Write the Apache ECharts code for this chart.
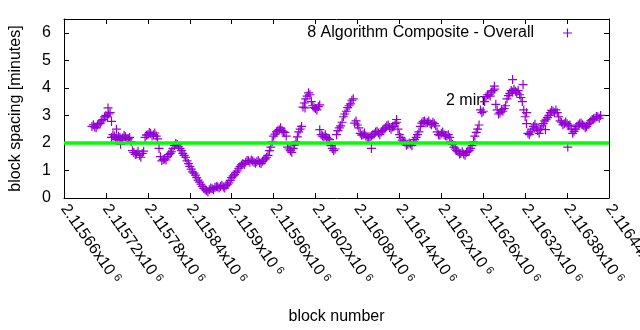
<!DOCTYPE html>
<html>
<head>
<meta charset="utf-8">
<script src="https://cdn.jsdelivr.net/npm/echarts@6/dist/echarts.min.js"></script>
<style>html,body{margin:0;padding:0;background:#fff}#c{width:640px;height:330px}</style>
</head>
<body>
<div id="c"></div>
<script>
// ---- data ----
const seriesName = '8 Algorithm Composite - Overall';
const startBlock = 2115700;
const blockStep = 4;
const spacingValues = [
  2.6, 2.58, 2.65, 2.72, 2.85, 3.0, 3.05, 2.2, 2.25, 2.15,
  2.2, 2.18, 2.22, 2.15, 2.05, 1.65, 1.6, 1.55, 1.62, 2.2,
  2.3, 2.35, 2.3, 2.25, 1.8, 1.35, 1.42, 1.5, 1.62, 1.8,
  1.98, 1.88, 1.72, 1.55, 1.35, 1.15, 0.95, 0.83, 0.65, 0.5,
  0.35, 0.26, 0.3, 0.34, 0.38, 0.4, 0.42, 0.4, 0.45, 0.55,
  0.74, 0.85, 0.98, 1.15, 1.25, 1.3, 1.35, 1.38, 1.3, 1.32,
  1.28, 1.33, 1.42, 1.55, 1.85, 2.25, 2.4, 2.48, 2.45, 2.38,
  1.85, 1.72, 1.8, 2.05, 2.4, 2.6, 3.45, 3.7, 3.75, 3.35,
  3.25, 3.32, 2.3, 2.22, 2.2, 2.12, 1.8, 1.78, 2.45, 2.62,
  2.95, 3.15, 3.35, 3.55, 2.72, 2.65, 2.35, 2.3, 2.25, 2.18,
  2.25, 2.32, 2.42, 2.3, 2.45, 2.55, 2.65, 2.5, 2.6, 2.75,
  2.3, 2.1, 2.02, 1.95, 1.96, 2.05, 2.2, 2.4, 2.72, 2.8,
  2.74, 2.7, 2.75, 2.62, 2.3, 2.35, 2.3, 2.25, 2.2, 1.95,
  1.78, 1.68, 1.62, 1.6, 1.66, 1.72, 1.9, 2.25, 2.5, 3.2,
  3.15, 3.68, 3.75, 3.85, 3.95, 3.2, 3.1, 3.15, 3.35, 3.72,
  3.9, 3.95, 3.82, 3.75, 3.5, 2.95, 2.35, 2.4, 2.6, 2.55,
  2.35, 2.62, 2.8, 2.92, 3.1, 3.15, 3.2, 2.95, 2.75, 2.7,
  2.7, 2.65, 2.35, 2.5, 2.65, 2.72, 2.62, 2.6, 2.72, 2.85,
  2.9, 2.95, 3.0
];
// the blocks in between (startBlock + 2 + i * blockStep)
const midValues = [
  2.66, 2.55, 2.7, 2.8, 2.95, 2.95, 3.1, 2.3, 2.12, 2.25,
  2.1, 2.28, 2.14, 2.2, 1.72, 1.58, 1.7, 1.48, 1.7, 2.28,
  2.38, 2.25, 2.36, 2.15, 1.5, 1.4, 1.38, 1.58, 1.68, 1.9,
  1.94, 1.8, 1.62, 1.48, 1.25, 1.05, 0.9, 0.74, 0.58, 0.42,
  0.3, 0.22, 0.36, 0.3, 0.42, 0.36, 0.46, 0.36, 0.5, 0.64,
  0.8, 0.92, 1.08, 1.2, 1.22, 1.36, 1.3, 1.34, 1.26, 1.36,
  1.25, 1.38, 1.48, 1.72, 2.05, 2.32, 2.44, 2.55, 2.4, 2.25,
  1.78, 1.66, 1.92, 2.22, 2.5, 3.3, 3.6, 3.82, 3.5, 3.28,
  3.2, 3.38, 2.25, 2.3, 2.15, 1.9, 1.72, 2.3, 2.55, 2.75,
  3.05, 3.28, 3.42, 3.6, 2.8, 2.55, 2.28, 2.36, 2.2, 2.22,
  2.3, 2.4, 2.36, 2.4, 2.5, 2.62, 2.56, 2.58, 2.7, 2.5,
  2.2, 2.05, 1.92, 2.0, 1.9, 2.12, 2.3, 2.6, 2.78, 2.72,
  2.8, 2.66, 2.7, 2.4, 2.28, 2.4, 2.26, 2.3, 2.05, 1.85,
  1.72, 1.6, 1.68, 1.55, 1.7, 1.8, 2.05, 2.38, 2.65, 3.1,
  3.5, 3.75, 3.7, 3.9, 3.4, 3.05, 3.2, 3.25, 3.6, 3.8,
  3.85, 3.88, 3.9, 3.65, 3.2, 2.7, 2.3, 2.5, 2.68, 2.45,
  2.5, 2.7, 2.86, 3.0, 3.18, 3.1, 3.1, 2.8, 2.66, 2.76,
  2.62, 2.5, 2.42, 2.6, 2.7, 2.66, 2.55, 2.68, 2.8, 2.88,
  2.96, 2.9
];
const outlierBlocks = [2115723, 2115728, 2115735, 2115741, 2116005, 2116026, 2116100, 2116136, 2116276, 2116302, 2116317, 2116322, 2116349, 2116381];
const outlierValues = [3.27, 2.78, 2.5, 1.95, 3.27, 2.48, 1.8, 2.85, 4.06, 4.3, 4.12, 3.1, 2.48, 1.85];

const xMin = 2115660, xMax = 2116440, xTickStep = 60;
const yMin = 0, yMax = 6.5, yTickStep = 1;
const refLevel = 2;
const refLabel = '2 min';
const xName = 'block number';
const yName = 'block spacing [minutes]';

// ---- build ----
const points = spacingValues.map((v, i) => [startBlock + i * blockStep, v]);
midValues.forEach((v, i) => points.push([startBlock + 2 + i * blockStep, v]));
outlierBlocks.forEach((b, i) => points.push([b, outlierValues[i]]));

const purple = '#9400d3';
const plusPath = 'path://M-0.6,-4.5H0.6V-0.6H4.5V0.6H0.6V4.5H-0.6V0.6H-4.5V-0.6H-0.6Z';
const font = 'Liberation Sans, Arial, sans-serif';
const fs = 16;

function fmtX(v) {
  const s = parseFloat((v / 1e6).toFixed(5)).toString();
  return '{a|' + s + 'x10}{b|6}';
}

function axisCommon() {
  return {
    axisLine: {show: true, onZero: false, lineStyle: {color: '#000', width: 1}},
    axisTick: {show: true, inside: true, length: 5, lineStyle: {color: '#000'}},
    splitLine: {show: false}
  };
}

const chart = echarts.init(document.getElementById('c'), null, {renderer: 'canvas'});
chart.setOption({
  animation: false,
  backgroundColor: '#fff',
  textStyle: {fontFamily: font},
  grid: {left: 64, right: 31, top: 19, bottom: 132, containLabel: false, outerBoundsMode: 'none'},
  legend: {
    data: [seriesName],
    right: 63, top: 20,
    align: 'right',
    icon: plusPath,
    itemWidth: 9, itemHeight: 9,
    textStyle: {fontSize: 16, color: '#000', fontFamily: font, padding: [0, 24, 0, 0]}
  },
  xAxis: [Object.assign({
    type: 'value', min: xMin, max: xMax, interval: xTickStep,
    position: 'bottom',
    name: xName, nameLocation: 'middle', nameGap: 111,
    nameTextStyle: {fontSize: 16, color: '#000', fontFamily: font},
    axisLabel: {
      rotate: -55, margin: 8, formatter: fmtX, color: '#000',
      rich: {a: {fontSize: fs, fontFamily: font, color: '#000'},
             b: {fontSize: 11, fontFamily: font, color: '#000', padding: [0, 0, 0, 4], verticalAlign: 'top'}}
    }
  }, axisCommon()), Object.assign({
    type: 'value', min: xMin, max: xMax, interval: xTickStep,
    position: 'top',
    axisLabel: {show: false}
  }, axisCommon())],
  yAxis: [Object.assign({
    type: 'value', min: yMin, max: yMax, interval: yTickStep,
    position: 'left',
    name: yName, nameLocation: 'middle', nameGap: 40,
    nameTextStyle: {fontSize: 16, color: '#000', fontFamily: font},
    axisLabel: {margin: 13, fontSize: 16, color: '#000', fontFamily: font, showMaxLabel: false,
      formatter: v => (v > 6 ? '' : String(v))}
  }, axisCommon()), Object.assign({
    type: 'value', min: yMin, max: yMax, interval: yTickStep,
    position: 'right',
    axisLabel: {show: false}
  }, axisCommon())],
  graphic: [{
    type: 'text', left: 446, top: 93,
    style: {text: refLabel, fontSize: 16, fill: '#000', fontFamily: font}
  }],
  series: [{
    name: seriesName,
    type: 'scatter',
    data: points,
    symbol: plusPath,
    symbolSize: 9,
    itemStyle: {color: purple, opacity: 1},
    z: 2
  }, {
    name: refLabel,
    type: 'line',
    xAxisIndex: 1, yAxisIndex: 1,
    data: [[xMin, refLevel], [xMax, refLevel]],
    symbol: 'none',
    lineStyle: {color: '#00ff00', width: 3.5},
    z: 3
  }]
});
</script>
</body>
</html>
